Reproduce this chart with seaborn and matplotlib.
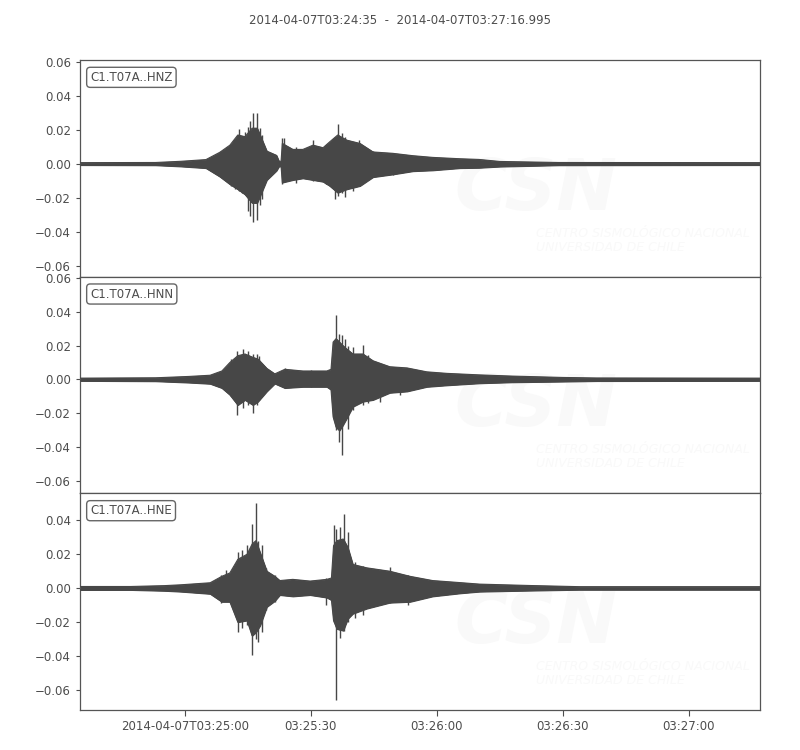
import matplotlib
matplotlib.use("Agg")
import matplotlib.pyplot as plt
import seaborn as sns
import pandas as pd

# time axis: seconds after 2014-04-07T03:24:35
t_start = 0.0
t_end = 161.995
title = "2014-04-07T03:24:35  -  2014-04-07T03:27:16.995"
tick_secs = [25, 55, 85, 115, 145]
tick_labels = ["2014-04-07T03:25:00", "03:25:30", "03:26:00", "03:26:30", "03:27:00"]

channels = ["C1.T07A..HNZ", "C1.T07A..HNN", "C1.T07A..HNE"]

# envelope knots (upper / lower amplitude)
z_t = [0, 18, 24, 30, 33.3, 35.7, 37.6, 39.3, 41.0, 42.2, 42.9, 44.5, 46.8, 47.4, 47.9, 48.2,
       50.7, 53.1, 55.5, 57.9, 59.5, 61.4, 63.5, 66.7, 69.8, 74.5, 79.3, 84, 90.5, 95, 100, 107, 114, 162]
z_up = [0.0007, 0.0008, 0.0015, 0.0025, 0.0068, 0.011, 0.017, 0.016, 0.021, 0.021, 0.017, 0.0075, 0.005,
        0.0015, 0.0015, 0.012, 0.0085, 0.0085, 0.011, 0.0095, 0.013, 0.017, 0.014, 0.012, 0.007, 0.0062,
        0.0048, 0.0038, 0.003, 0.0026, 0.0014, 0.0011, 0.0008, 0.0007]
z_lo = [-0.0007, -0.0008, -0.0015, -0.0025, -0.0075, -0.012, -0.015, -0.018, -0.023, -0.023, -0.019,
        -0.0095, -0.004, -0.0015, -0.0015, -0.011, -0.0095, -0.0085, -0.0095, -0.0105, -0.013, -0.017,
        -0.015, -0.013, -0.0078, -0.0062, -0.0043, -0.0038, -0.0025, -0.0023, -0.0016, -0.0012, -0.0008,
        -0.0007]

n_t = [0, 18, 26, 31, 33.8, 35.7, 37.6, 39.3, 41.2, 42.4, 44.5, 46.4, 48.8, 53.1, 58.8, 59.8, 60.3,
       61.0, 61.8, 62.6, 63.5, 65, 67.4, 69.8, 73.8, 77.9, 82.6, 87.4, 95.2, 103, 115, 123, 162]
n_up = [0.0008, 0.001, 0.0018, 0.0025, 0.005, 0.010, 0.014, 0.015, 0.013, 0.012, 0.0065, 0.0033,
        0.006, 0.005, 0.005, 0.006, 0.022, 0.024, 0.022, 0.020, 0.018, 0.015, 0.015, 0.011, 0.0075,
        0.0068, 0.0045, 0.0036, 0.0027, 0.002, 0.0012, 0.0009, 0.0008]
n_lo = [-0.0008, -0.001, -0.0018, -0.0025, -0.005, -0.009, -0.015, -0.012, -0.015, -0.013, -0.007,
        -0.0024, -0.005, -0.0043, -0.0043, -0.006, -0.022, -0.028, -0.030, -0.027, -0.023, -0.016,
        -0.013, -0.012, -0.0078, -0.007, -0.0043, -0.0034, -0.0022, -0.0016, -0.0012, -0.0009, -0.0008]

e_t = [0, 12, 20, 24, 31, 33.8, 35.7, 37.6, 39.8, 41.0, 41.9, 42.9, 44.5, 46.4, 47.6, 50.7, 54.8, 58.8,
       59.9, 60.4, 61.2, 62.7, 63.8, 65, 68.3, 73.8, 78.6, 84, 90.5, 95.2, 107, 119, 162]
e_up = [0.001, 0.001, 0.0015, 0.002, 0.0032, 0.007, 0.009, 0.017, 0.020, 0.026, 0.028, 0.021,
        0.010, 0.007, 0.0045, 0.0052, 0.0042, 0.0052, 0.006, 0.025, 0.028, 0.029, 0.024, 0.014,
        0.012, 0.010, 0.007, 0.0045, 0.0033, 0.0024, 0.0016, 0.0009, 0.0009]
e_lo = [-0.001, -0.001, -0.0015, -0.002, -0.0033, -0.008, -0.008, -0.020, -0.019, -0.028, -0.026,
        -0.022, -0.011, -0.0075, -0.004, -0.0048, -0.004, -0.0055, -0.007, -0.019, -0.024, -0.025,
        -0.018, -0.015, -0.012, -0.0085, -0.008, -0.0048, -0.003, -0.002, -0.0014, -0.0009, -0.0009]

# single swings standing out of the envelope (time, top, bottom)
z_spikes = [(33.7, 0.0073, -0.008), (36.0, 0.011, -0.013), (36.9, 0.014, -0.015),
            (37.8, 0.0205, -0.016), (38.5, 0.016, -0.017), (39.3, 0.019, -0.018),
            (40.0, 0.022, -0.028), (40.4, 0.025, -0.031), (41.2, 0.030, -0.034),
            (42.1, 0.030, -0.033), (42.9, 0.021, -0.024), (43.3, 0.017, -0.021),
            (48.1, 0.015, -0.012), (48.6, 0.015, -0.010), (51.5, 0.010, -0.011),
            (55.5, 0.014, -0.0104), (58.5, 0.011, -0.012), (60.7, 0.016, -0.021),
            (61.4, 0.0235, -0.019), (62.4, 0.018, -0.017), (63.1, 0.016, -0.0195),
            (65.0, 0.013, -0.016), (66.4, 0.014, -0.013), (69.8, 0.0075, -0.008),
            (74.5, 0.0065, -0.0065), (78.0, 0.0055, -0.005)]
n_spikes = [(35.9, 0.012, -0.010), (37.3, 0.017, -0.021), (38.9, 0.018, -0.017),
            (40.1, 0.0165, -0.015), (41.1, 0.015, -0.0196), (42.1, 0.015, -0.015),
            (42.7, 0.014, -0.012), (48.8, 0.0065, -0.0053), (55.0, 0.0055, -0.0045),
            (60.9, 0.038, -0.030), (61.7, 0.027, -0.037), (62.5, 0.026, -0.0447),
            (63.1, 0.024, -0.024), (63.8, 0.020, -0.029), (65.0, 0.019, -0.018),
            (67.4, 0.0204, -0.015), (68.6, 0.0147, -0.014), (71.4, 0.0092, -0.0133),
            (76.2, 0.0072, -0.009), (80.0, 0.0055, -0.005)]
e_spikes = [(33.7, 0.0076, -0.0088), (34.9, 0.0106, -0.007), (37.7, 0.0214, -0.0257),
            (38.5, 0.0224, -0.0237), (39.7, 0.0253, -0.0218), (40.9, 0.038, -0.0394),
            (41.9, 0.0504, -0.030), (42.5, 0.028, -0.0316), (43.3, 0.0253, -0.0257),
            (44.4, 0.0118, -0.013), (46.4, 0.0076, -0.008), (58.7, 0.006, -0.010),
            (60.5, 0.037, -0.020), (60.9, 0.035, -0.066), (61.9, 0.036, -0.0296),
            (62.9, 0.044, -0.025), (63.9, 0.033, -0.020), (65.5, 0.0155, -0.0176),
            (67.5, 0.013, -0.016), (73.8, 0.0125, -0.009), (78.1, 0.008, -0.010),
            (72.0, 0.011, -0.009)]

ylims = [(-0.0665, 0.0612), (-0.067, 0.0605), (-0.0718, 0.0559)]

traces = [(z_t, z_up, z_lo, z_spikes), (n_t, n_up, n_lo, n_spikes), (e_t, e_up, e_lo, e_spikes)]

sns.set_style("ticks")
plt.rcParams['font.family'] = ['DejaVu Sans']
wave_col = "#474747"
text_col = "#4d4d4d"

fig = plt.figure(figsize=(8, 7.5), dpi=100)
h = (0.92 - 0.0533) / 3
axes = []
for i in range(3):
    ax = fig.add_axes([0.1, 0.92 - (i + 1) * h, 0.85, h])
    axes.append(ax)

for i, ax in enumerate(axes):
    t, up, lo, spikes = traces[i]
    df = pd.DataFrame({"t": t, "up": up, "lo": lo})

    # faint watermark
    ax.text(0.55, 0.31, "CSN", transform=ax.transAxes, fontsize=52, fontweight="bold",
            fontstyle="italic", color="#f9f9f9", zorder=0)
    ax.text(0.67, 0.12, "CENTRO SISMOLÓGICO NACIONAL\nUNIVERSIDAD DE CHILE", transform=ax.transAxes,
            fontsize=9, fontstyle="italic", color="#f9f9f9", zorder=0, linespacing=1.1,
            clip_on=True)

    ax.fill_between(df["t"], df["lo"], df["up"], color=wave_col, lw=0.8, zorder=2)
    sns.lineplot(data=df, x="t", y="up", ax=ax, color=wave_col, lw=0.8, zorder=3)
    sns.lineplot(data=df, x="t", y="lo", ax=ax, color=wave_col, lw=0.8, zorder=3)
    sp = pd.DataFrame(spikes, columns=["t", "top", "bot"])
    ax.vlines(sp["t"], sp["bot"], sp["top"], color=wave_col, lw=1.0, zorder=3)

    ax.set_xlabel("")
    ax.set_ylabel("")
    ax.set_xticks(tick_secs)
    ax.set_yticks([-0.06, -0.04, -0.02, 0.0, 0.02, 0.04, 0.06])
    ax.set_xlim(t_start, t_end)
    ax.set_ylim(*ylims[i])
    ax.yaxis.set_major_formatter(matplotlib.ticker.FuncFormatter(
        lambda v, p: ("%.2f" % v).replace("-", "\u2212")))
    ax.tick_params(axis="y", labelsize=8.5, colors=text_col, length=3)
    for s in ax.spines.values():
        s.set_color("#555555")
        s.set_linewidth(0.9)

    ax.text(0.015, 0.92, channels[i], transform=ax.transAxes, fontsize=8.5, color=text_col,
            va="center", ha="left",
            bbox=dict(boxstyle="round,pad=0.3", fc="white", ec="#666666", lw=1), zorder=5)

    if i < 2:
        ax.tick_params(axis="x", bottom=False, labelbottom=False)
    else:
        ax.set_xticklabels(tick_labels)
        ax.tick_params(axis="x", labelsize=8.5, colors=text_col, length=4)

fig.text(0.5, 0.973, title, ha="center", va="center", fontsize=8.5, color=text_col)

fig.savefig("out.png", dpi=100)
